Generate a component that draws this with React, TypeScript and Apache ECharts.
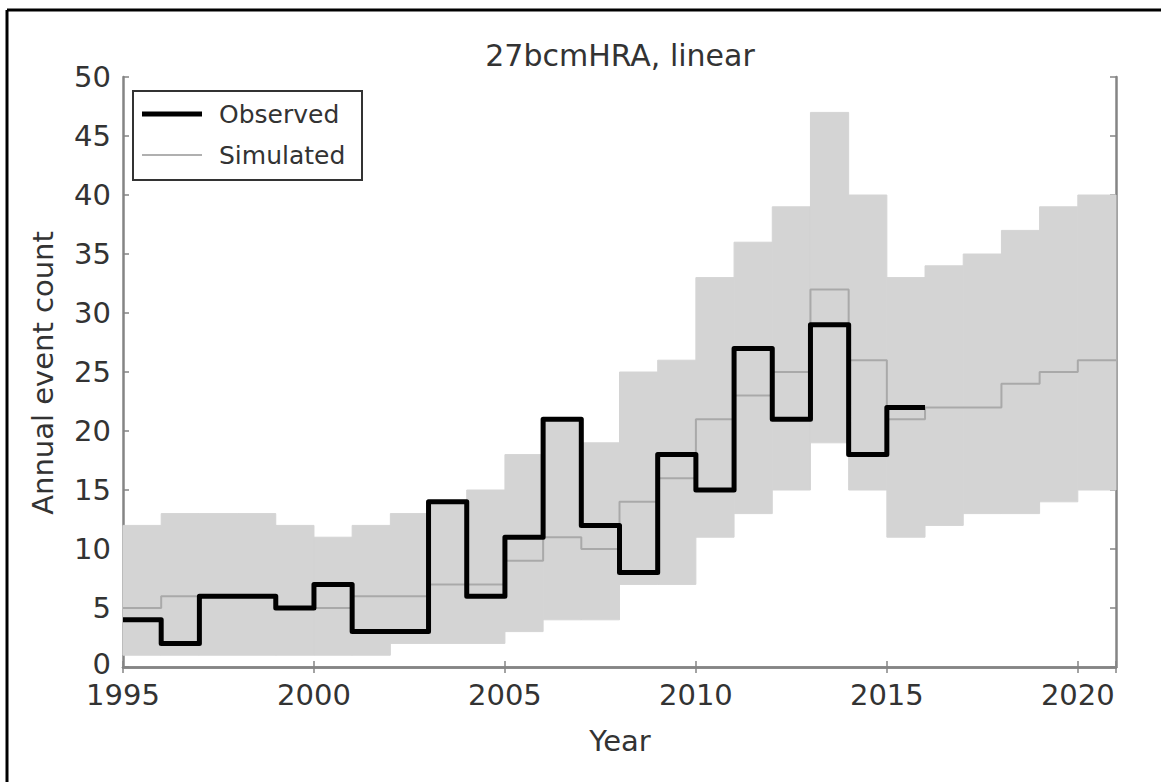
import React, { useEffect, useRef } from "react";
import * as echarts from "echarts";

const years = [1995, 1996, 1997, 1998, 1999, 2000, 2001, 2002, 2003, 2004, 2005, 2006, 2007, 2008, 2009, 2010, 2011, 2012, 2013, 2014, 2015, 2016, 2017, 2018, 2019, 2020];
const observed = [4, 2, 6, 6, 5, 7, 3, 3, 14, 6, 11, 21, 12, 8, 18, 15, 27, 21, 29, 18, 22];
const simMedian = [5, 6, 6, 6, 5, 5, 6, 6, 7, 7, 9, 11, 10, 14, 16, 21, 23, 25, 32, 26, 21, 22, 22, 24, 25, 26];
const simLower = [1, 1, 1, 1, 1, 1, 1, 2, 2, 2, 3, 4, 4, 7, 7, 11, 13, 15, 19, 15, 11, 12, 13, 13, 14, 15];
const simUpper = [12, 13, 13, 13, 12, 11, 12, 13, 14, 15, 18, 21, 19, 25, 26, 33, 36, 39, 47, 40, 33, 34, 35, 37, 39, 40];
const xTicksStep = 5;
const yTicksStep = 5;
const xRange = [1995, 2021];
const yRange = [0, 50];
const titleText = "27bcmHRA, linear";
const xName = "Year";
const yName = "Annual event count";
const legendNames = ["Observed", "Simulated"];

const FONT = "DejaVu Sans";
const TEXT = "#333";
const FRAME = "#858585";

function stepPoints(vals: number[]) {
  const pts = vals.map((v, i) => [years[i], v]);
  pts.push([years[vals.length - 1] + 1, vals[vals.length - 1]]);
  return pts;
}

export default function App() {
  const ref = useRef<HTMLDivElement>(null);
  useEffect(() => {
    if (!ref.current) return;
    const chart = echarts.init(ref.current, null, { renderer: "svg" });
    const G = { left: 123, right: 45, top: 77, bottom: 115 };
    const axisCommon = {
      type: "value" as const,
      splitLine: { show: false },
      axisLine: { show: true, lineStyle: { color: FRAME, width: 2.5 } },
      axisTick: { show: true, inside: true, length: 6, lineStyle: { color: FRAME, width: 1.5 } },
    };
    const lx = 133, ly = 91, lw = 229, lh = 89;
    chart.setOption({
      animation: false,
      backgroundColor: "#fff",
      grid: { ...G, containLabel: false },
      xAxis: [
        {
          ...axisCommon,
          position: "bottom",
          min: xRange[0],
          max: xRange[1],
          interval: xTicksStep,
          axisLabel: {
            show: true,
            color: TEXT,
            fontFamily: FONT,
            fontSize: 29,
            lineHeight: 26,
            margin: 15,
            formatter: (v: number) => (v % xTicksStep === 0 ? String(v) : ""),
          },
        },
        {
          ...axisCommon,
          position: "top",
          min: xRange[0],
          max: xRange[1],
          interval: xTicksStep,
          axisLabel: { show: false },
        },
      ],
      yAxis: [
        {
          ...axisCommon,
          position: "left",
          min: yRange[0],
          max: yRange[1],
          interval: yTicksStep,
          axisLabel: {
            show: true,
            color: TEXT,
            fontFamily: FONT,
            fontSize: 29,
            lineHeight: 26,
            margin: 12,
            formatter: (v: number) => (v === yRange[0] ? "{z|" + v + "}" : String(v)),
            rich: { z: { fontFamily: FONT, fontSize: 29, lineHeight: 26, color: TEXT, padding: [0, 0, 6, 0] } },
          },
        },
        {
          ...axisCommon,
          position: "right",
          min: yRange[0],
          max: yRange[1],
          interval: yTicksStep,
          axisLabel: { show: false },
        },
      ],
      series: [
        {
          type: "custom",
          name: "band",
          silent: true,
          z: 1,
          data: years.map((y, i) => [y, simLower[i], simUpper[i]]),
          encode: { x: 0, y: [1, 2] },
          renderItem: (params: any, api: any) => {
            const x0 = api.value(0);
            const p0 = api.coord([x0, api.value(2)]);
            const p1 = api.coord([x0 + 1, api.value(1)]);
            return {
              type: "rect",
              shape: { x: p0[0], y: p0[1], width: p1[0] - p0[0], height: p1[1] - p0[1] },
              style: { fill: "#d4d4d4", stroke: "#d4d4d4", lineWidth: 1 },
            };
          },
        },
        {
          type: "line",
          name: legendNames[1],
          step: "end",
          symbol: "none",
          z: 3,
          data: stepPoints(simMedian),
          lineStyle: { color: "#a9a9a9", width: 2 },
        },
        {
          type: "line",
          name: legendNames[0],
          step: "end",
          symbol: "none",
          z: 4,
          data: stepPoints(observed),
          lineStyle: { color: "#000", width: 5, join: "round" },
        },
      ],
      graphic: [
        { type: "line", shape: { x1: 7, y1: 10, x2: 1161, y2: 10 }, style: { stroke: "#000", lineWidth: 3 } },
        { type: "line", shape: { x1: 7, y1: 10, x2: 7, y2: 782 }, style: { stroke: "#000", lineWidth: 3 } },
        {
          type: "text",
          x: 620,
          y: 55,
          style: { text: titleText, fill: TEXT, font: `30px "${FONT}"`, textAlign: "center", textVerticalAlign: "middle" },
        },
        {
          type: "text",
          x: 620,
          y: 741,
          style: { text: xName, fill: TEXT, font: `29px "${FONT}"`, textAlign: "center", textVerticalAlign: "middle" },
        },
        {
          type: "text",
          x: 43,
          y: 373,
          rotation: Math.PI / 2,
          style: { text: yName, fill: TEXT, font: `29px "${FONT}"`, textAlign: "center", textVerticalAlign: "middle" },
        },
        {
          type: "rect",
          z: 10,
          shape: { x: lx, y: ly, width: lw, height: lh },
          style: { fill: "#fff", stroke: "#333", lineWidth: 2 },
        },
        {
          type: "line",
          z: 11,
          shape: { x1: 142, y1: 114, x2: 202, y2: 114 },
          style: { stroke: "#000", lineWidth: 5 },
        },
        {
          type: "line",
          z: 11,
          shape: { x1: 142, y1: 155, x2: 202, y2: 155 },
          style: { stroke: "#b0b0b0", lineWidth: 2 },
        },
        {
          type: "text",
          z: 11,
          x: 219,
          y: 114,
          style: { text: legendNames[0], fill: TEXT, font: `25px "${FONT}"`, textVerticalAlign: "middle" },
        },
        {
          type: "text",
          z: 11,
          x: 219,
          y: 155,
          style: { text: legendNames[1], fill: TEXT, font: `25px "${FONT}"`, textVerticalAlign: "middle" },
        },
      ],
    });
    return () => chart.dispose();
  }, []);
  return (
    <div
      ref={ref}
      style={{ position: "absolute", left: 0, top: 0, width: 1161, height: 782, background: "#fff" }}
    />
  );
}
